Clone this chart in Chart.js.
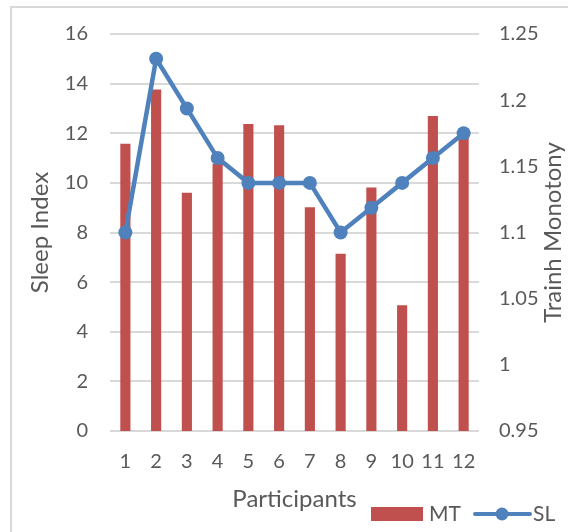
<!DOCTYPE html>
<html>
<head>
<meta charset="utf-8">
<script src="https://cdn.jsdelivr.net/npm/chart.js@4/dist/chart.umd.min.js"></script>
<style>
  html, body { margin: 0; padding: 0; background: #ffffff; }
  #wrap { width: 568px; height: 532px; position: relative; }
</style>
</head>
<body>
<div id="wrap"><canvas id="c" width="568" height="532"></canvas></div>
<script>
// Participants on the x axis
const participants = ['1', '2', '3', '4', '5', '6', '7', '8', '9', '10', '11', '12'];
// Training monotony per participant (right axis)
const mtValues = [1.167, 1.208, 1.130, 1.152, 1.182, 1.181, 1.119, 1.084, 1.134, 1.045, 1.188, 1.172];
// Sleep index per participant (left axis)
const slValues = [8, 15, 13, 11, 10, 10, 10, 8, 9, 10, 11, 12];

const FONT = 'Lato, "Open Sans", sans-serif';
const TEXT = '#595959';
const GRID = '#d9d9d9';
const RED = '#c0504d';
const BLUE = '#4f81bd';
const TICK_SIZE = 20;
const TITLE_SIZE = 24;

// light outer frame
const framePlugin = {
  id: 'frame',
  beforeDraw(chart) {
    const ctx = chart.ctx;
    ctx.save();
    ctx.fillStyle = '#ffffff';
    ctx.fillRect(0, 0, chart.width, chart.height);
    ctx.strokeStyle = GRID;
    ctx.lineWidth = 2;
    ctx.beginPath();
    ctx.moveTo(11, chart.height);
    ctx.lineTo(11, 7);
    ctx.lineTo(chart.width, 7);
    ctx.stroke();
    ctx.restore();
  }
};

// right-hand axis title, reading bottom to top
const rightTitlePlugin = {
  id: 'rightTitle',
  afterDraw(chart) {
    const ctx = chart.ctx;
    const area = chart.chartArea;
    ctx.save();
    ctx.translate(553, (area.top + area.bottom) / 2);
    ctx.rotate(-Math.PI / 2);
    ctx.font = TITLE_SIZE + 'px ' + FONT;
    ctx.fillStyle = TEXT;
    ctx.textAlign = 'center';
    ctx.textBaseline = 'middle';
    ctx.fillText('Trainh Monotony', 0, 0);
    ctx.restore();
  }
};

// legend in the lower right corner
const legendPlugin = {
  id: 'cornerLegend',
  afterDraw(chart) {
    const ctx = chart.ctx;
    const bar = chart.data.datasets[1];
    const line = chart.data.datasets[0];
    const y = 514;
    ctx.save();
    ctx.font = '21px ' + FONT;
    ctx.textBaseline = 'middle';
    ctx.textAlign = 'left';
    // bar swatch
    ctx.fillStyle = bar.backgroundColor;
    ctx.fillRect(371, 507, 52, 14);
    ctx.fillStyle = TEXT;
    ctx.fillText(bar.label, 429, y);
    // line swatch
    ctx.strokeStyle = line.borderColor;
    ctx.lineWidth = 4;
    ctx.lineCap = 'round';
    ctx.beginPath();
    ctx.moveTo(475, y);
    ctx.lineTo(530, y);
    ctx.stroke();
    ctx.fillStyle = line.backgroundColor;
    ctx.beginPath();
    ctx.arc(502, y, 6.5, 0, Math.PI * 2);
    ctx.fill();
    ctx.fillStyle = TEXT;
    ctx.fillText(line.label, 533, y);
    ctx.restore();
  }
};

const fmt = v => String(Number(Number(v).toFixed(2)));

new Chart(document.getElementById('c'), {
  type: 'bar',
  data: {
    labels: participants,
    datasets: [
      {
        type: 'line',
        label: 'SL',
        data: slValues,
        yAxisID: 'y',
        borderColor: BLUE,
        backgroundColor: BLUE,
        borderWidth: 4.5,
        pointRadius: 7,
        pointHoverRadius: 7,
        pointBackgroundColor: BLUE,
        pointBorderWidth: 0,
        tension: 0,
        order: 0
      },
      {
        type: 'bar',
        label: 'MT',
        data: mtValues,
        yAxisID: 'y1',
        backgroundColor: RED,
        borderWidth: 0,
        barPercentage: 0.33,
        categoryPercentage: 1,
        order: 1
      }
    ]
  },
  options: {
    responsive: false,
    animation: false,
    devicePixelRatio: 1,
    layout: { padding: { top: 34, right: 0, bottom: 0, left: 0 } },
    plugins: {
      legend: { display: false },
      tooltip: { enabled: false }
    },
    scales: {
      x: {
        offset: true,
        grid: { display: false, drawTicks: false },
        border: { display: false },
        ticks: { color: TEXT, font: { family: FONT, size: TICK_SIZE }, padding: 19, maxRotation: 0 },
        title: {
          display: true,
          text: 'Participants',
          color: TEXT,
          font: { family: FONT, size: TITLE_SIZE },
          padding: { top: 0, bottom: 18 }
        },
        afterFit(scale) { scale.height = 101; }
      },
      y: {
        position: 'left',
        min: 0,
        max: 16,
        ticks: { stepSize: 2, color: TEXT, font: { family: FONT, size: TICK_SIZE }, padding: 22 },
        grid: { color: GRID, lineWidth: 2, drawTicks: false },
        border: { display: false },
        title: {
          display: true,
          text: 'Sleep Index',
          color: TEXT,
          font: { family: FONT, size: TITLE_SIZE },
          padding: { top: 26, bottom: 0 }
        },
        afterFit(scale) { scale.width = 110; }
      },
      y1: {
        position: 'right',
        min: 0.95,
        max: 1.25,
        ticks: { stepSize: 0.05, color: TEXT, font: { family: FONT, size: TICK_SIZE }, padding: 20, callback: v => fmt(v) },
        grid: { display: false, drawTicks: false },
        border: { display: false },
        afterFit(scale) { scale.width = 89; }
      }
    }
  },
  plugins: [framePlugin, rightTitlePlugin, legendPlugin]
});
</script>
</body>
</html>
